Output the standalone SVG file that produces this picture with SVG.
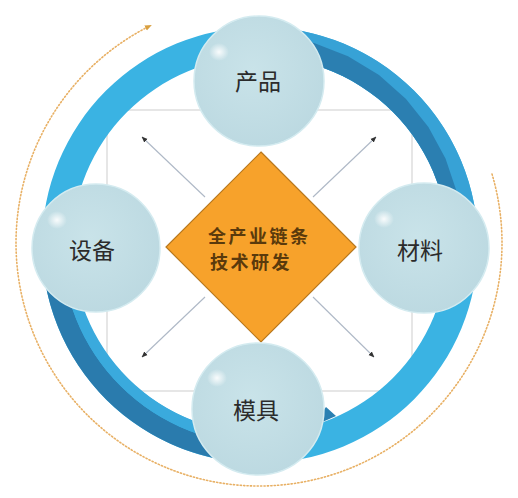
<svg xmlns="http://www.w3.org/2000/svg" width="518" height="498" viewBox="0 0 518 498">
<defs>
<style>
.frame{fill:none;stroke:#d6d6d6;stroke-width:1.2}
.conn{fill:none;stroke:#aeb8c6;stroke-width:1.1}
.ball{fill:url(#ballG);stroke:#d4ebf0;stroke-width:1.5}
.hl{fill:url(#hlG)}
.lbl{font-family:"Noto Sans CJK SC","Noto Sans",sans-serif;font-size:23px;fill:#2b2b2b;text-anchor:middle}
.ctr{font-family:"Noto Sans CJK SC","Noto Sans",sans-serif;font-size:18px;font-weight:bold;fill:#5a3a0c;letter-spacing:2.5px}
</style>
<radialGradient id="ballG" cx="0.45" cy="0.42" r="0.6">
<stop offset="0" stop-color="#c9e3e9"/>
<stop offset="1" stop-color="#bcd9e1"/>
</radialGradient>
<radialGradient id="hlG" cx="0.5" cy="0.5" r="0.5">
<stop offset="0" stop-color="#ffffff" stop-opacity="0.9"/>
<stop offset="1" stop-color="#ffffff" stop-opacity="0"/>
</radialGradient>
<marker id="ah" viewBox="0 0 10 10" refX="9" refY="5" markerWidth="6" markerHeight="6" markerUnits="userSpaceOnUse" orient="auto">
<path d="M0,1 L10,5 L0,9 Z" fill="#333"/>
</marker>
<marker id="oh" viewBox="0 0 10 10" refX="5" refY="5" markerWidth="7" markerHeight="7" markerUnits="userSpaceOnUse" orient="auto">
<path d="M0,1 L10,5 L0,9 Z" fill="#d9a040"/>
</marker>
</defs>
<rect width="518" height="498" fill="#ffffff"/>

<g id="frame">
<rect class="frame" x="107" y="110" width="305" height="281"/>
</g>

<g id="ring">
<path fill="#3ab3e3" fill-rule="evenodd" d="M 42 245 A 218 218 0 1 0 478 245 A 218 218 0 1 0 42 245 Z M 72 245 A 188 188 0 1 1 448 245 A 188 188 0 1 1 72 245 Z"/>
<path fill="#37a2d6" d="M 241 27.8 A 218 218 0 0 1 477.2 264 L 447.3 261.4 A 188 188 0 0 0 243.6 57.7 Z"/>
<path fill="#2b7fb1" d="M 241.6 34.8 L 278.3 35.7 L 314.1 42.9 L 348 56.2 L 379 75.1 L 406 99 L 428.4 127.1 L 445.5 158.5 L 456.9 192.3 L 462.1 227.3 L 461.2 262.6 L 447.3 261.4 A 188 188 0 0 0 243.6 57.7 Z"/>
<path fill="#2a7bad" d="M 259 463 A 218 218 0 0 1 42.8 226 L 62.6 228.6 A 199 199 0 0 0 259 444 Z"/>
<path fill="#3aaadd" d="M 62.6 228.6 A 199 199 0 0 0 259 444 L 259 433 A 188 188 0 0 1 73.3 229.6 Z"/>
<path fill="#2b80b2" d="M 311 427 L 336 416 L 326 407 Z"/>
</g>

<g id="cycle">
<path d="M 492 174 A 243 243 0 1 1 148.7 26.5" fill="none" stroke="#e8b064" stroke-width="1.6" stroke-dasharray="1.2 2.2" stroke-linecap="round" marker-end="url(#oh)"/>
</g>

<g id="connectors">
<line class="conn" x1="205" y1="197" x2="142" y2="137" marker-end="url(#ah)"/>
<line class="conn" x1="313" y1="197" x2="376" y2="137" marker-end="url(#ah)"/>
<line class="conn" x1="205" y1="297" x2="142" y2="357" marker-end="url(#ah)"/>
<line class="conn" x1="313" y1="297" x2="374" y2="357" marker-end="url(#ah)"/>
</g>

<g id="core">
<path d="M 261 152 L 356 247 L 261 342 L 166 247 Z" fill="#f7a22b" stroke="#b8781e" stroke-width="1.2"/>
<text class="ctr" x="208" y="243">全产业链条</text>
<text class="ctr" x="210" y="269">技术研发</text>
</g>

<g id="n-product">
<circle class="ball" cx="259" cy="81" r="65"/>
<ellipse class="hl" cx="219" cy="52" rx="10" ry="9"/>
<text class="lbl" x="258" y="90">产品</text>
</g>
<g id="n-equipment">
<circle class="ball" cx="96" cy="248" r="64"/>
<ellipse class="hl" cx="57" cy="220" rx="10" ry="9"/>
<text class="lbl" x="92" y="259">设备</text>
</g>
<g id="n-material">
<circle class="ball" cx="424" cy="248" r="65"/>
<ellipse class="hl" cx="384" cy="219" rx="10" ry="9"/>
<text class="lbl" x="420" y="259">材料</text>
</g>
<g id="n-mold">
<circle class="ball" cx="258" cy="409" r="66"/>
<ellipse class="hl" cx="217" cy="378" rx="10" ry="9"/>
<text class="lbl" x="256" y="419">模具</text>
</g>
</svg>
